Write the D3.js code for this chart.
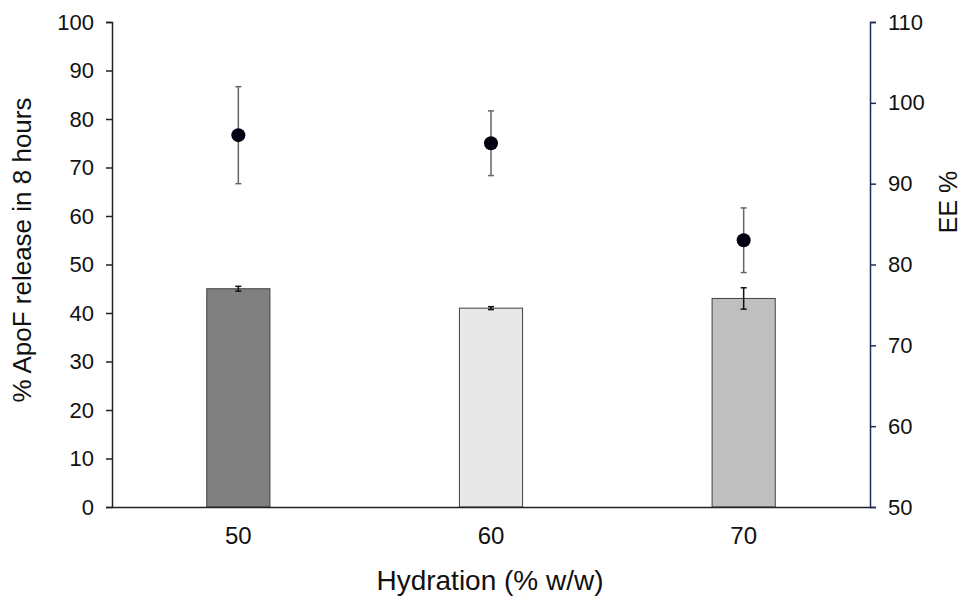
<!DOCTYPE html>
<html>
<head>
<meta charset="utf-8">
<script src="https://cdn.jsdelivr.net/npm/d3@7"></script>
<style>
  body { margin: 0; background: #fff; }
  svg { font-family: "Liberation Sans", Arial, sans-serif; }
</style>
</head>
<body>
<svg id="chart" width="961" height="596"></svg>
<script>
const categories = ["50", "60", "70"];
const releaseValues = [45, 41, 43];
const releaseErrors = [0.5, 0.3, 2.2];
const eeValues = [96, 95, 83];
const eeErrors = [6, 4, 4];
const barColors = ["#808080", "#e8e8e8", "#bfbfbf"];
const leftTicks = d3.range(0, 101, 10);
const rightTicks = d3.range(50, 111, 10);

const margin = { top: 22, right: 91, bottom: 89, left: 112 };
const width = 961, height = 596;

const svg = d3.select("#chart");

const x = d3.scaleBand(categories, [margin.left, width - margin.right])
  .paddingInner(0.75).paddingOuter(0.375);
const y = d3.scaleLinear([0, 100], [height - margin.bottom, margin.top]);
const y2 = d3.scaleLinear([50, 110], [height - margin.bottom, margin.top]);

// bars
svg.append("g")
  .selectAll("rect")
  .data(categories)
  .join("rect")
    .attr("x", d => x(d))
    .attr("y", (d, i) => y(releaseValues[i]))
    .attr("width", x.bandwidth())
    .attr("height", (d, i) => y(0) - y(releaseValues[i]))
    .attr("fill", (d, i) => barColors[i])
    .attr("stroke", "#404040")
    .attr("stroke-width", 1);

// error bars: bars (black) and EE points (grey)
function errorBars(vals, errs, scale, color) {
  const g = svg.append("g").attr("stroke", color).attr("stroke-width", 1.5);
  categories.forEach((c, i) => {
    const cx = x(c) + x.bandwidth() / 2;
    const lo = scale(vals[i] - errs[i]);
    const hi = scale(vals[i] + errs[i]);
    g.append("line").attr("x1", cx).attr("x2", cx).attr("y1", lo).attr("y2", hi);
    g.append("line").attr("x1", cx - 3).attr("x2", cx + 3).attr("y1", lo).attr("y2", lo);
    g.append("line").attr("x1", cx - 3).attr("x2", cx + 3).attr("y1", hi).attr("y2", hi);
  });
}
errorBars(releaseValues, releaseErrors, y, "#111");
errorBars(eeValues, eeErrors, y2, "#666");

// EE points
svg.append("g")
  .selectAll("circle")
  .data(categories)
  .join("circle")
    .attr("cx", d => x(d) + x.bandwidth() / 2)
    .attr("cy", (d, i) => y2(eeValues[i]))
    .attr("r", 7)
    .attr("fill", "#000010");

const font = "Liberation Sans, Arial, sans-serif";

// left axis
svg.append("g")
  .attr("transform", `translate(${margin.left},0)`)
  .call(d3.axisLeft(y).tickValues(leftTicks).tickSize(6).tickPadding(12))
  .call(g => g.select(".domain").attr("stroke", "#222").attr("stroke-width", 1.5))
  .call(g => g.selectAll(".tick line").attr("stroke", "#222").attr("stroke-width", 1.5))
  .call(g => g.selectAll("text").attr("font-size", 22).attr("fill", "#111").attr("font-family", font));

// right axis
svg.append("g")
  .attr("transform", `translate(${width - margin.right},0)`)
  .call(d3.axisRight(y2).tickValues(rightTicks).tickSize(6).tickPadding(12))
  .call(g => g.select(".domain").attr("stroke", "#1f2a5c").attr("stroke-width", 1.5))
  .call(g => g.selectAll(".tick line").attr("stroke", "#1f2a5c").attr("stroke-width", 1.5))
  .call(g => g.selectAll("text").attr("font-size", 22).attr("fill", "#111").attr("font-family", font));

// bottom axis
svg.append("g")
  .attr("transform", `translate(0,${height - margin.bottom})`)
  .call(d3.axisBottom(x).tickSize(0).tickPadding(20))
  .call(g => g.select(".domain").attr("stroke", "#222").attr("stroke-width", 1.5))
  .call(g => g.selectAll("text").attr("font-size", 24).attr("fill", "#111").attr("font-family", font));

// axis titles
svg.append("text")
  .attr("x", 490)
  .attr("y", 590)
  .attr("text-anchor", "middle")
  .attr("font-size", 28)
  .attr("fill", "#111")
  .text("Hydration (% w/w)");

svg.append("text")
  .attr("transform", `translate(31,250) rotate(-90)`)
  .attr("text-anchor", "middle")
  .attr("font-size", 26)
  .attr("fill", "#111")
  .text("% ApoF release in 8 hours");

svg.append("text")
  .attr("transform", `translate(957,202) rotate(-90)`)
  .attr("text-anchor", "middle")
  .attr("font-size", 25)
  .attr("fill", "#111")
  .text("EE %");
</script>
</body>
</html>
